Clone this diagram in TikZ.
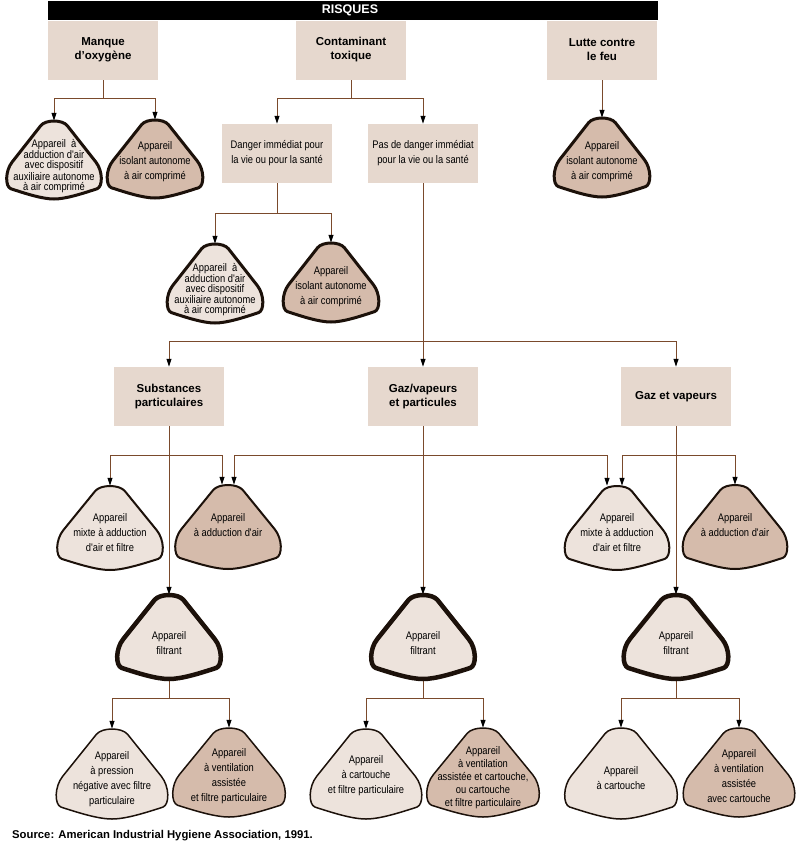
\documentclass[tikz,border=0pt]{standalone}
\usepackage{fontspec}
\setmainfont{Liberation Sans}
\newfontfamily\narrowf[FakeStretch=0.85]{Liberation Sans}
\usetikzlibrary{arrows.meta,backgrounds}
\definecolor{boxfill}{HTML}{E6D8CE}
\definecolor{lightfill}{HTML}{EDE3DC}
\definecolor{darkfill}{HTML}{D5BBAB}
\definecolor{linec}{HTML}{7A4A2C}
\definecolor{edgec}{HTML}{1C110A}
\tikzset{
  boxnode/.style={fill=boxfill, minimum width=110pt, minimum height=59pt, inner sep=0pt, align=center, font=\bfseries\fontsize{11.5}{14}\selectfont},
  smallbox/.style={boxnode, font=\narrowf\fontsize{11}{15}\selectfont},
  conn/.style={draw=linec, line width=1pt},
  arr/.style={conn, -{Triangle[length=8pt,width=5pt,color=black]}},
  tritext/.style={align=center, inner sep=0pt, font=\narrowf\fontsize{11}{15}\selectfont},
  tritight/.style={align=center, inner sep=0pt, font=\narrowf\fontsize{11}{10}\selectfont},
  trimid/.style={align=center, inner sep=0pt, font=\narrowf\fontsize{11}{13}\selectfont},
  shbase/.style={draw=edgec, line join=round},
  sh1l/.style={shbase, fill=lightfill, line width=3pt},
  sh1d/.style={shbase, fill=darkfill, line width=3pt},
  sh4l/.style={shbase, fill=lightfill, line width=2pt},
  sh4d/.style={shbase, fill=darkfill, line width=2pt},
  shf/.style={shbase, fill=lightfill, line width=4.5pt},
  sh6l/.style={shbase, fill=lightfill, line width=1.5pt},
  sh6d/.style={shbase, fill=darkfill, line width=1.5pt},
}
% name, cx, top, W, H, shape style, text style, text shift, text
\newcommand\trinode[9]{%
  \begin{scope}[shift={(#2,#3)}, xscale=#4/2, yscale=#5]
    \path[#6] (-0.28,0.06) .. controls (-0.177,-0.02) and (0.177,-0.02) .. (0.28,0.06)
      -- (0.88,0.525)
      .. controls (1.03,0.64) and (1.03,0.84) .. (0.91,0.868)
      .. controls (0.6,0.93) and (0.25,1.0) .. (0,1.0)
      .. controls (-0.25,1.0) and (-0.6,0.93) .. (-0.91,0.868)
      .. controls (-1.03,0.84) and (-1.03,0.64) .. (-0.88,0.525)
      -- cycle;
  \end{scope}
  \node[minimum width=#4pt, minimum height=#5pt, inner sep=0pt] (#1) at (#2,#3+#5/2) {};
  \node[#7] (#1t) at (#2,#3+#5/2+#8) {#9};
}
\begin{document}
\begin{tikzpicture}[x=1pt,y=-1pt]
\useasboundingbox (0,0) rectangle (800,847);

% header bar
\node[fill=black, minimum width=610pt, minimum height=19pt, inner sep=0pt, text=white, font=\bfseries\fontsize{12.5}{14}\selectfont] (bar) at (353,10.5) {\hspace*{-6pt}RISQUES};

% boxes
\node[boxnode] (man) at (103,50) {Manque\\d'oxygène};
\node[boxnode] (con) at (351,50) {Contaminant\\toxique};
\node[boxnode] (lut) at (602,50) {Lutte contre\\le feu};
\node[smallbox] (dan) at (277,153.5) {Danger immédiat pour\\la vie ou pour la santé};
\node[smallbox] (pas) at (423,153.5) {Pas de danger immédiat\\pour la vie ou la santé};
\node[boxnode] (sub) at (169,396.5) {Substances\\particulaires};
\node[boxnode] (gvp) at (423,396.5) {Gaz/vapeurs\\et particules};
\node[boxnode] (gv) at (676,396.5) {Gaz et vapeurs};

% row 1
\trinode{t11}{54}{121}{95}{78}{sh1l}{tritight}{6}{Appareil~ à\\adduction d'air\\avec dispositif\\auxiliaire autonome\\à air comprimé}
\trinode{t12}{155}{120}{96}{78}{sh1d}{tritext}{3}{Appareil\\isolant autonome\\à air comprimé}
\trinode{tl}{602}{118}{96}{79}{sh1d}{tritext}{4}{Appareil\\isolant autonome\\à air comprimé}
% row 2
\trinode{t21}{215}{244}{96}{79}{sh1l}{tritight}{6}{Appareil~ à\\adduction d'air\\avec dispositif\\auxiliaire autonome\\à air comprimé}
\trinode{t22}{331}{243}{96}{79}{sh1d}{tritext}{4}{Appareil\\isolant autonome\\à air comprimé}
% row 4
\trinode{t41}{110}{486}{106}{84}{sh4l}{tritext}{5}{Appareil\\mixte à adduction\\d'air et filtre}
\trinode{t42}{228}{485}{106}{84}{sh4d}{tritext}{-1.5}{Appareil\\à adduction d'air}
\trinode{t43}{617}{486}{105}{84}{sh4l}{tritext}{5}{Appareil\\mixte à adduction\\d'air et filtre}
\trinode{t44}{735}{485}{105}{84}{sh4d}{tritext}{-1.5}{Appareil\\à adduction d'air}
% row 5
\trinode{f1}{169}{595}{104}{84}{shf}{tritext}{6}{Appareil\\filtrant}
\trinode{f2}{423}{595}{104}{84}{shf}{tritext}{6}{Appareil\\filtrant}
\trinode{f3}{676}{595}{105}{84}{shf}{tritext}{6}{Appareil\\filtrant}
% row 6
\trinode{t61}{112}{729}{112}{90}{sh6l}{tritext}{5}{Appareil\\à pression\\négative avec filtre\\particulaire}
\trinode{t62}{229}{728}{113}{89}{sh6d}{tritext}{4}{Appareil\\à ventilation\\assistée\\et filtre particulaire}
\trinode{t63}{366}{729}{112}{90}{sh6l}{tritext}{2}{Appareil\\à cartouche\\et filtre particulaire}
\trinode{t64}{483}{728}{113}{89}{sh6d}{trimid}{5.5}{Appareil\\à ventilation\\assistée et cartouche,\\ou cartouche\\et filtre particulaire}
\trinode{t65}{621}{728}{113}{91}{sh6l}{tritext}{4.5}{Appareil\\à cartouche}
\trinode{t66}{739}{728}{112}{89}{sh6d}{tritext}{4}{Appareil\\à ventilation\\assistée\\avec cartouche}

% connectors
\begin{scope}[on background layer]
\draw[conn] (man.south) -- ++(0,19) coordinate (manj);
\draw[arr] (manj) -| (t11.north);
\draw[arr] (manj) -| (t12.north);
\draw[conn] (con.south) -- ++(0,19) coordinate (conj);
\draw[arr] (conj) -| (dan.north);
\draw[arr] (conj) -| (pas.north);
\draw[arr] (lut.south) -- (tl.north);
\draw[conn] (dan.south) -- ++(0,30) coordinate (danj);
\draw[arr] (danj) -| (t21.north);
\draw[arr] (danj) -| (t22.north);
\draw[arr] (pas.south) -- (gvp.north);
\coordinate (pasj) at (423,341);
\draw[arr] (pasj) -| (sub.north);
\draw[arr] (pasj) -| (gv.north);
\draw[arr] (sub.south) -- (f1.north);
\coordinate (subj) at (169,455);
\draw[arr] (subj) -| (t41.north);
\draw[arr] (subj) -| ([xshift=-6pt]t42.north);
\draw[arr] (gvp.south) -- (f2.north);
\coordinate (gvpj) at (423,455);
\draw[arr] (gvpj) -| ([xshift=6pt]t42.north);
\draw[arr] (gvpj) -| ([xshift=-10pt]t43.north);
\draw[arr] (gv.south) -- (f3.north);
\coordinate (gvj) at (676,455);
\draw[arr] (gvj) -| ([xshift=5pt]t43.north);
\draw[arr] (gvj) -| (t44.north);
\draw[conn] (f1.south) -- ++(0,19) coordinate (f1j);
\draw[arr] (f1j) -| (t61.north);
\draw[arr] (f1j) -| (t62.north);
\draw[conn] (f2.south) -- ++(0,19) coordinate (f2j);
\draw[arr] (f2j) -| (t63.north);
\draw[arr] (f2j) -| (t64.north);
\draw[conn] (f3.south) -- ++(0,19) coordinate (f3j);
\draw[arr] (f3j) -| (t65.north);
\draw[arr] (f3j) -| (t66.north);
\end{scope}

\node[anchor=west, inner sep=0pt, font=\bfseries\fontsize{11.3}{13}\selectfont] (src) at (12,836) {Source: American Industrial Hygiene Association, 1991.};
\end{tikzpicture}
\end{document}
